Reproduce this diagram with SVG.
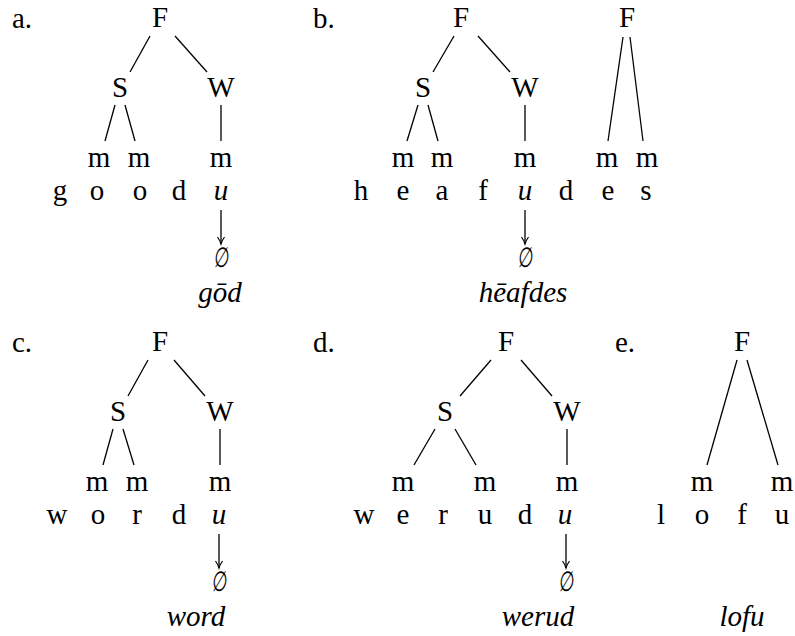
<svg xmlns="http://www.w3.org/2000/svg" width="795" height="636" viewBox="0 0 795 636">
<style>
text{font-family:"Liberation Serif","DejaVu Serif",serif;font-size:29px;fill:#000;text-anchor:middle}
.it{font-style:italic}
.lab{text-anchor:start}
.es{font-family:"DejaVu Sans","Liberation Serif",sans-serif;font-size:25px}
line{stroke:#000;stroke-width:1.3}
</style>
<defs>
<marker id="ah" markerWidth="10" markerHeight="10" refX="8.5" refY="5" orient="auto" markerUnits="userSpaceOnUse" viewBox="0 0 10 10">
<path d="M1.5,1.5 Q5,4 8.5,5 Q5,6 1.5,8.5" fill="none" stroke="#000" stroke-width="1.2"/>
</marker>
</defs>
<rect width="795" height="636" fill="#fff"/>

<g id="labels">
<text class="lab" x="12" y="28">a.</text>
<text class="lab" x="313" y="28">b.</text>
<text class="lab" x="12" y="352">c.</text>
<text class="lab" x="313" y="352">d.</text>
<text class="lab" x="615" y="352">e.</text>
</g>

<g id="connectors">
<!-- a -->
<line x1="150" y1="36" x2="130" y2="72"/>
<line x1="175" y1="36" x2="207" y2="72"/>
<line x1="115" y1="105" x2="105" y2="141"/>
<line x1="125" y1="105" x2="135" y2="141"/>
<line x1="221" y1="105" x2="221" y2="141"/>
<line x1="221" y1="210" x2="221" y2="244" marker-end="url(#ah)"/>
<!-- b -->
<line x1="454" y1="36" x2="433" y2="72"/>
<line x1="478" y1="36" x2="510" y2="72"/>
<line x1="418" y1="105" x2="407" y2="141"/>
<line x1="428" y1="105" x2="438" y2="141"/>
<line x1="525" y1="105" x2="525" y2="141"/>
<line x1="623" y1="37" x2="608" y2="141"/>
<line x1="630" y1="37" x2="643" y2="141"/>
<line x1="525" y1="210" x2="525" y2="244" marker-end="url(#ah)"/>
<!-- c -->
<line x1="148" y1="360" x2="128" y2="396"/>
<line x1="174" y1="360" x2="205" y2="396"/>
<line x1="113" y1="429" x2="103" y2="465"/>
<line x1="123" y1="429" x2="134" y2="465"/>
<line x1="220" y1="429" x2="220" y2="465"/>
<line x1="219" y1="534" x2="219" y2="568" marker-end="url(#ah)"/>
<!-- d -->
<line x1="491" y1="360" x2="460" y2="396"/>
<line x1="521" y1="360" x2="552" y2="396"/>
<line x1="435" y1="429" x2="414" y2="465"/>
<line x1="455" y1="429" x2="476" y2="465"/>
<line x1="567" y1="429" x2="567" y2="465"/>
<line x1="566" y1="534" x2="566" y2="568" marker-end="url(#ah)"/>
<!-- e -->
<line x1="737" y1="360" x2="707" y2="465"/>
<line x1="747" y1="360" x2="778" y2="465"/>
</g>

<g id="tree-a">
<text x="160" y="27">F</text>
<text x="120" y="97">S</text>
<text x="221" y="97">W</text>
<text x="99" y="167">m</text>
<text x="139" y="167">m</text>
<text x="221" y="167">m</text>
<text x="60" y="200">g</text>
<text x="97" y="200">o</text>
<text x="140" y="200">o</text>
<text x="179" y="200">d</text>
<text class="it" x="221" y="200">u</text>
<text class="es" transform="translate(221,267) scale(0.7,1.12) skewX(-8)">∅</text>
<text class="it" x="220" y="302">gōd</text>
</g>

<g id="tree-b">
<text x="461" y="27">F</text>
<text x="423" y="97">S</text>
<text x="525" y="97">W</text>
<text x="403" y="167">m</text>
<text x="442" y="167">m</text>
<text x="525" y="167">m</text>
<text x="627" y="27">F</text>
<text x="607" y="167">m</text>
<text x="647" y="167">m</text>
<text x="361" y="200">h</text>
<text x="403" y="200">e</text>
<text x="442" y="200">a</text>
<text x="483" y="200">f</text>
<text class="it" x="525" y="200">u</text>
<text x="566" y="200">d</text>
<text x="608" y="200">e</text>
<text x="646" y="200">s</text>
<text class="es" transform="translate(525,267) scale(0.7,1.12) skewX(-8)">∅</text>
<text class="it" x="523" y="302">hēafdes</text>
</g>

<g id="tree-c">
<text x="160" y="351">F</text>
<text x="118" y="421">S</text>
<text x="220" y="421">W</text>
<text x="97" y="491">m</text>
<text x="137" y="491">m</text>
<text x="220" y="491">m</text>
<text x="57" y="524">w</text>
<text x="98" y="524">o</text>
<text x="137" y="524">r</text>
<text x="179" y="524">d</text>
<text class="it" x="219" y="524">u</text>
<text class="es" transform="translate(219,591) scale(0.7,1.12) skewX(-8)">∅</text>
<text class="it" x="196" y="626">word</text>
</g>

<g id="tree-d">
<text x="506" y="351">F</text>
<text x="445" y="421">S</text>
<text x="567" y="421">W</text>
<text x="403" y="491">m</text>
<text x="485" y="491">m</text>
<text x="567" y="491">m</text>
<text x="364" y="524">w</text>
<text x="403" y="524">e</text>
<text x="443" y="524">r</text>
<text x="485" y="524">u</text>
<text x="525" y="524">d</text>
<text class="it" x="565" y="524">u</text>
<text class="es" transform="translate(566,591) scale(0.7,1.12) skewX(-8)">∅</text>
<text class="it" x="538" y="626">werud</text>
</g>

<g id="tree-e">
<text x="742" y="351">F</text>
<text x="702" y="491">m</text>
<text x="782" y="491">m</text>
<text x="661" y="524">l</text>
<text x="702" y="524">o</text>
<text x="742" y="524">f</text>
<text x="782" y="524">u</text>
<text class="it" x="742" y="626">lofu</text>
</g>
</svg>
